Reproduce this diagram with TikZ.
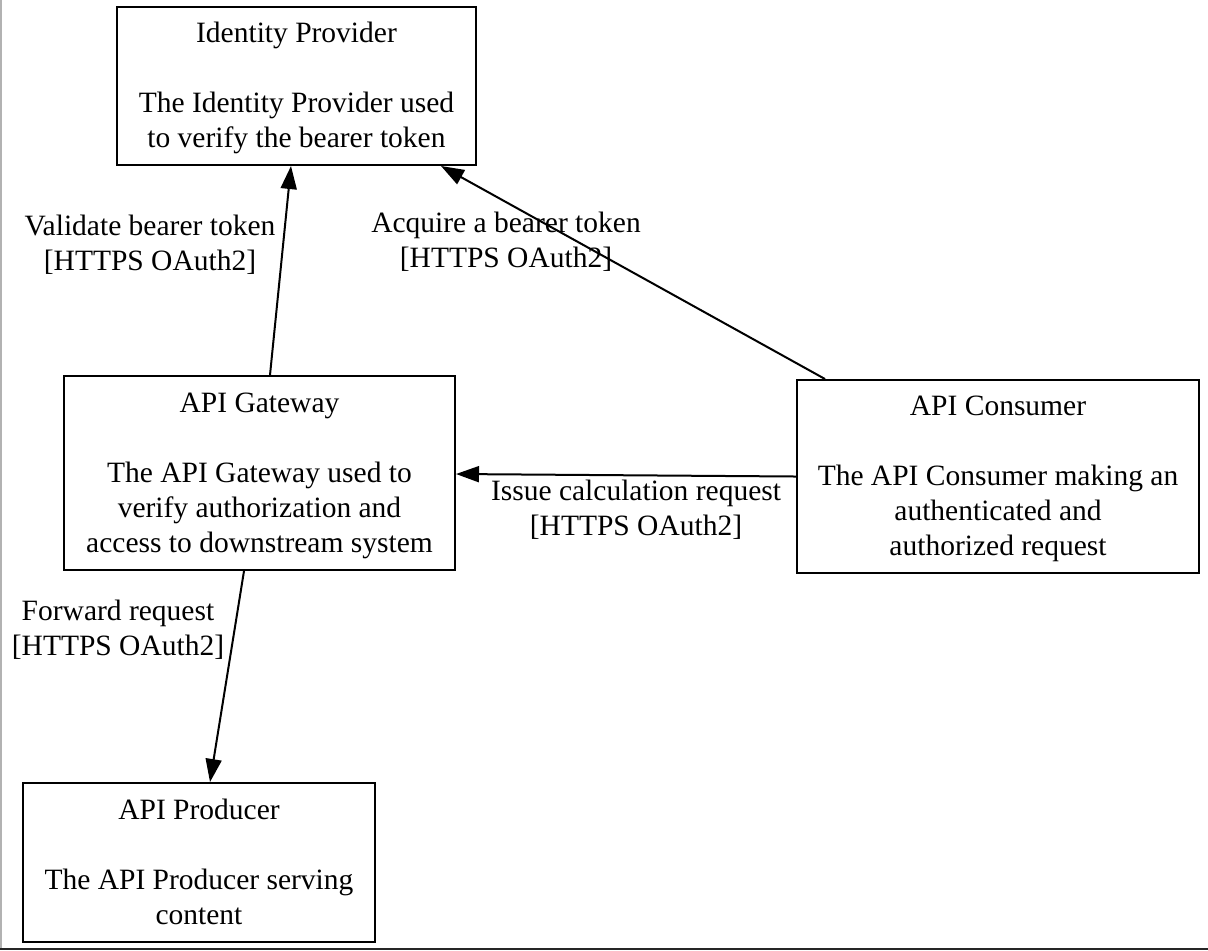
\documentclass[tikz,border=0pt]{standalone}
\usepackage{fontspec}
\setmainfont{Liberation Serif}
\usetikzlibrary{arrows.meta}
\newcommand{\topstrut}{\rule{0pt}{13.25pt}}
\newcommand{\botstrut}{\rule[-4pt]{0pt}{0pt}}
\begin{document}
\begin{tikzpicture}[x=0.5pt,y=-0.5pt,
  box/.style={draw,line width=1pt,inner sep=0pt,align=center,
    font=\fontsize{14.75}{17.5}\selectfont},
  lbl/.style={inner sep=0pt,align=center,font=\fontsize{14.75}{17.5}\selectfont},
  conn/.style={line width=1pt,-{Triangle[length=11.5pt,width=8pt]}}]
\useasboundingbox (0,0) rectangle (1208,950);
\fill[white] (0,0) rectangle (1208,950);
\draw[line width=1pt,gray!60] (0.5,0) -- (0.5,950);
\draw[line width=1pt,black!85] (0,948.5) -- (1208,948.5);

\node[box,minimum width=179.5pt,minimum height=79pt] (idp) at (296.5,86)
  {\topstrut Identity Provider\\[17.5pt]The Identity Provider used\\to verify the bearer token\botstrut};
\node[box,minimum width=195.5pt,minimum height=97pt] (gw) at (259.5,473)
  {\topstrut API Gateway\\[17.5pt]The API Gateway used to\\verify authorization and\\access to downstream system\botstrut};
\node[box,minimum width=201pt,minimum height=96.5pt] (cons) at (998,476.5)
  {\topstrut API Consumer\\[17.5pt]The API Consumer making an\\authenticated and\\authorized request\botstrut};
\node[box,minimum width=176pt,minimum height=79.5pt] (prod) at (199,862.5)
  {\topstrut API Producer\\[17.5pt]The API Producer serving\\content\botstrut};

\draw[conn] ([shift={(10.5,0)}]gw.north) -- ([shift={(-5.5,0)}]idp.south);
\draw[conn] ([shift={(-173,0)}]cons.north) -- ([shift={(-36,0)}]idp.south east);
\draw[conn] (cons.west) -- ([shift={(0,1)}]gw.east);
\draw[conn] ([shift={(-15.5,0)}]gw.south) -- ([shift={(11,0)}]prod.north);

\node[lbl] (l1) at (150,245) {Validate bearer token\\{}[HTTPS OAuth2]};
\node[lbl] (l2) at (506,242) {Acquire a bearer token\\{}[HTTPS OAuth2]};
\node[lbl] (l3) at (636,510) {Issue calculation request\\{}[HTTPS OAuth2]};
\node[lbl] (l4) at (118,630) {Forward request\\{}[HTTPS OAuth2]};
\end{tikzpicture}
\end{document}
